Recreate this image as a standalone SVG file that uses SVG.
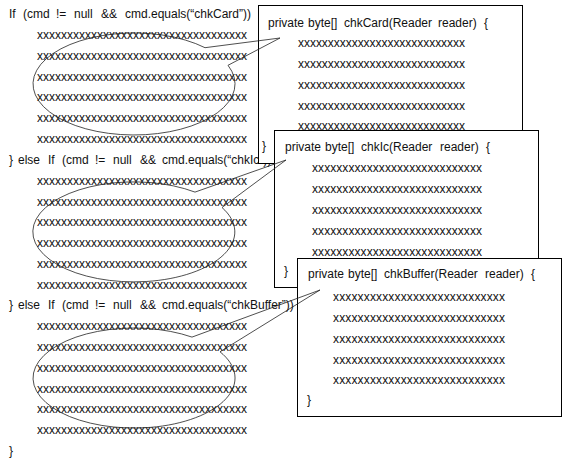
<svg xmlns="http://www.w3.org/2000/svg" width="570" height="462" viewBox="0 0 570 462">
<style>
text{font-family:"Liberation Sans",Arial,sans-serif;font-size:12px;fill:#111;white-space:pre}
.box{fill:#fff;stroke:#000;stroke-width:1}
.call{fill:none;stroke:#222;stroke-width:0.8}
</style>
<rect width="570" height="462" fill="#fff"/>
<g id="main-code">
<text y="18"><tspan x="9">If</tspan><tspan x="23">(cmd</tspan><tspan x="56">!=</tspan><tspan x="74">null</tspan><tspan x="101">&amp;&amp;</tspan><tspan x="125">cmd.equals(“chkCard”))</tspan></text>
<text x="37" y="39" textLength="210">xxxxxxxxxxxxxxxxxxxxxxxxxxxxxxxxxxx</text>
<text x="37" y="60" textLength="210">xxxxxxxxxxxxxxxxxxxxxxxxxxxxxxxxxxx</text>
<text x="37" y="81" textLength="210">xxxxxxxxxxxxxxxxxxxxxxxxxxxxxxxxxxx</text>
<text x="37" y="101" textLength="210">xxxxxxxxxxxxxxxxxxxxxxxxxxxxxxxxxxx</text>
<text x="37" y="122" textLength="210">xxxxxxxxxxxxxxxxxxxxxxxxxxxxxxxxxxx</text>
<text x="37" y="143" textLength="210">xxxxxxxxxxxxxxxxxxxxxxxxxxxxxxxxxxx</text>
<text y="164"><tspan x="9">}</tspan><tspan x="18">else</tspan><tspan x="48">If</tspan><tspan x="62">(cmd</tspan><tspan x="95">!=</tspan><tspan x="113">null</tspan><tspan x="140">&amp;&amp;</tspan><tspan x="162">cmd.equals(“chkIc”))</tspan><tspan x="276">{</tspan></text>
<text x="37" y="185" textLength="210">xxxxxxxxxxxxxxxxxxxxxxxxxxxxxxxxxxx</text>
<text x="37" y="206" textLength="210">xxxxxxxxxxxxxxxxxxxxxxxxxxxxxxxxxxx</text>
<text x="37" y="226" textLength="210">xxxxxxxxxxxxxxxxxxxxxxxxxxxxxxxxxxx</text>
<text x="37" y="247" textLength="210">xxxxxxxxxxxxxxxxxxxxxxxxxxxxxxxxxxx</text>
<text x="37" y="268" textLength="210">xxxxxxxxxxxxxxxxxxxxxxxxxxxxxxxxxxx</text>
<text x="37" y="289" textLength="210">xxxxxxxxxxxxxxxxxxxxxxxxxxxxxxxxxxx</text>
<text y="309"><tspan x="9">}</tspan><tspan x="18">else</tspan><tspan x="48">If</tspan><tspan x="62">(cmd</tspan><tspan x="95">!=</tspan><tspan x="113">null</tspan><tspan x="140">&amp;&amp;</tspan><tspan x="162">cmd.equals(“chkBuffer”))</tspan><tspan x="306">{</tspan></text>
<text x="37" y="330" textLength="210">xxxxxxxxxxxxxxxxxxxxxxxxxxxxxxxxxxx</text>
<text x="37" y="351" textLength="210">xxxxxxxxxxxxxxxxxxxxxxxxxxxxxxxxxxx</text>
<text x="37" y="372" textLength="210">xxxxxxxxxxxxxxxxxxxxxxxxxxxxxxxxxxx</text>
<text x="37" y="393" textLength="210">xxxxxxxxxxxxxxxxxxxxxxxxxxxxxxxxxxx</text>
<text x="37" y="413" textLength="210">xxxxxxxxxxxxxxxxxxxxxxxxxxxxxxxxxxx</text>
<text x="37" y="434" textLength="210">xxxxxxxxxxxxxxxxxxxxxxxxxxxxxxxxxxx</text>
<text x="9" y="455">}</text>
</g>
<g id="box-chkCard">
<rect class="box" x="258.5" y="5.5" width="264" height="158"/>
<text y="27"><tspan x="268">private</tspan><tspan x="308">byte[]</tspan><tspan x="344">chkCard(Reader</tspan><tspan x="438">reader)</tspan><tspan x="484">{</tspan></text>
<text x="298" y="47" textLength="167">xxxxxxxxxxxxxxxxxxxxxxxxxxxx</text>
<text x="298" y="68" textLength="167">xxxxxxxxxxxxxxxxxxxxxxxxxxxx</text>
<text x="298" y="89" textLength="167">xxxxxxxxxxxxxxxxxxxxxxxxxxxx</text>
<text x="298" y="110" textLength="167">xxxxxxxxxxxxxxxxxxxxxxxxxxxx</text>
<text x="298" y="130" textLength="167">xxxxxxxxxxxxxxxxxxxxxxxxxxxx</text>
<text x="262" y="150">}</text>
</g>
<g id="box-chkIc">
<rect class="box" x="274.5" y="130.5" width="264" height="157"/>
<text y="151"><tspan x="285">private</tspan><tspan x="325">byte[]</tspan><tspan x="361">chkIc(Reader</tspan><tspan x="440">reader)</tspan><tspan x="486">{</tspan></text>
<text x="312" y="172" textLength="170">xxxxxxxxxxxxxxxxxxxxxxxxxxxx</text>
<text x="312" y="193" textLength="170">xxxxxxxxxxxxxxxxxxxxxxxxxxxx</text>
<text x="312" y="214" textLength="170">xxxxxxxxxxxxxxxxxxxxxxxxxxxx</text>
<text x="312" y="235" textLength="170">xxxxxxxxxxxxxxxxxxxxxxxxxxxx</text>
<text x="312" y="256" textLength="170">xxxxxxxxxxxxxxxxxxxxxxxxxxxx</text>
<text x="284" y="275">}</text>
</g>
<g id="box-chkBuffer">
<rect class="box" x="297.5" y="258.5" width="264" height="158"/>
<text y="278"><tspan x="308">private</tspan><tspan x="348">byte[]</tspan><tspan x="384">chkBuffer(Reader</tspan><tspan x="485">reader)</tspan><tspan x="531">{</tspan></text>
<text x="333" y="301" textLength="172">xxxxxxxxxxxxxxxxxxxxxxxxxxxx</text>
<text x="333" y="322" textLength="172">xxxxxxxxxxxxxxxxxxxxxxxxxxxx</text>
<text x="333" y="343" textLength="172">xxxxxxxxxxxxxxxxxxxxxxxxxxxx</text>
<text x="333" y="364" textLength="172">xxxxxxxxxxxxxxxxxxxxxxxxxxxx</text>
<text x="333" y="384" textLength="172">xxxxxxxxxxxxxxxxxxxxxxxxxxxx</text>
<text x="307" y="404">}</text>
</g>
<g id="connectors">
<path class="call" d="M205 47.7 A101 51 0 1 0 228 65.3 L280 38 Z"/>
<path class="call" d="M195 192.1 A101 50 0 1 0 222 207.5 L286 160 Z"/>
<path class="call" d="M192 337.1 A101 50 0 1 0 220 351.8 L320 290 Z"/>
</g>
</svg>
